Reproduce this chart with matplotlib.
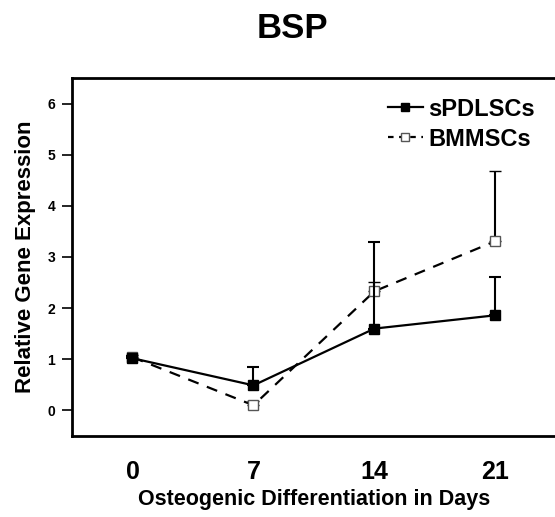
import matplotlib.pyplot as plt
from matplotlib.lines import Line2D

# data
days = ["0", "7", "14", "21"]
spdl_mean = [1.02, 0.49, 1.60, 1.86]
spdl_err = [0.05, 0.35, 1.69, 0.75]
bmms_mean = [1.04, 0.10, 2.33, 3.31]
bmms_err = [0.05, 0.08, 0.18, 1.38]

plt.rcParams['font.family'] = ['Liberation Sans', 'DejaVu Sans']
plt.rcParams['font.weight'] = 'bold'

fig = plt.figure(figsize=(5.55, 5.17), dpi=100)
ax = fig.add_axes([0.1297, 0.1567, 0.872, 0.6925])

x = list(range(len(days)))

ax.errorbar(x, spdl_mean, yerr=[[0] * 4, spdl_err], color='black', lw=1.6,
            marker='s', ms=7, mfc='black', mec='black', capsize=4,
            elinewidth=1.5, capthick=1.5, zorder=3)
ax.errorbar(x, bmms_mean, yerr=[[0] * 4, bmms_err], color='black', lw=1.6,
            ls=(0, (5, 4)), marker='s', ms=7, mfc='white', mec='#555555',
            mew=1.0, capsize=4, elinewidth=1.5, capthick=1.5, zorder=2)

ax.set_xlim(-0.5, 3.5)
ax.set_ylim(-0.5, 6.5)
ax.set_yticks(range(0, 7))
ax.set_xticks(x)
ax.set_xticklabels(days, fontsize=18, fontweight='bold')
ax.tick_params(axis='x', length=0, pad=17)
ax.tick_params(axis='y', length=7, width=1.2, labelsize=10, pad=5)
for lab in ax.get_yticklabels():
    lab.set_fontweight('bold')

for s in ax.spines.values():
    s.set_linewidth(2)

ax.set_xlabel('Osteogenic Differentiation in Days', fontsize=15.5,
              fontweight='bold', labelpad=4)
ax.set_ylabel('Relative Gene Expression', fontsize=16, fontweight='bold',
              labelpad=8)
fig.text(0.527, 0.945, 'BSP', fontsize=25, fontweight='bold',
         ha='center', va='center')

handles = [
    Line2D([], [], color='black', lw=1.6, marker='s', ms=6, mfc='black'),
    Line2D([], [], color='black', lw=1.6, ls=(0, (2.5, 2.5)), marker='s',
           ms=6, mfc='white', mec='#555555', mew=1.0),
]
leg = ax.legend(handles, ['sPDLSCs', 'BMMSCs'], loc='upper right',
                frameon=False, fontsize=17, handlelength=1.5,
                handletextpad=0.2, borderaxespad=0.2, labelspacing=0.3,
                bbox_to_anchor=(0.985, 0.985))
for t in leg.get_texts():
    t.set_fontweight('bold')

fig.savefig('out.png', dpi=100)
